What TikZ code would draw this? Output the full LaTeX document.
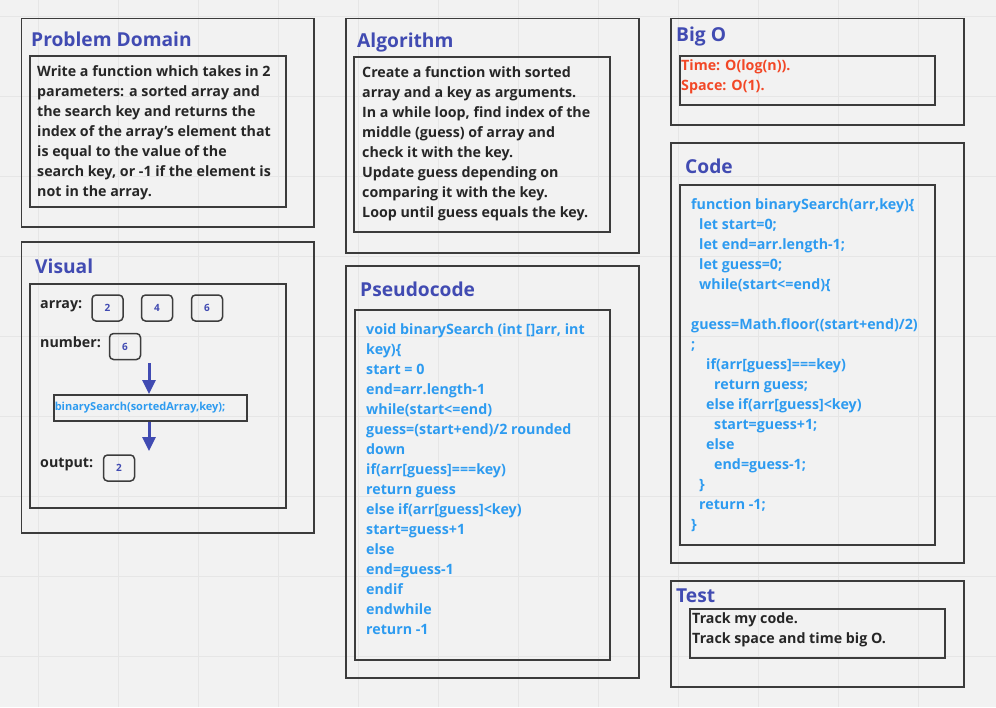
\documentclass[tikz,border=0pt]{standalone}
\usepackage{fontspec}
\setmainfont{Open Sans}
\usetikzlibrary{arrows.meta}
\definecolor{bg}{HTML}{F2F2F2}
\definecolor{gridc}{HTML}{E6E6E6}
\definecolor{framec}{HTML}{3C3C3C}
\definecolor{ttl}{HTML}{414BB2}
\definecolor{codeblue}{HTML}{2D9BF0}
\definecolor{redo}{HTML}{F24726}
\definecolor{txt}{HTML}{262626}
\begin{document}
\begin{tikzpicture}[x=1pt,y=-1pt,
  frm/.style={draw=framec, line width=1.5pt, rectangle, inner sep=0pt, anchor=north west},
  ttlstyle/.style={anchor=base west, inner sep=0pt, text=ttl, font=\fontsize{19.2}{23}\selectfont\bfseries},
  bodytxt/.style={anchor=base west, inner sep=0pt, align=left, text=txt, font=\fontsize{14.25}{20}\selectfont\bfseries},
  codetxt/.style={bodytxt, text=codeblue},
  redtxt/.style={bodytxt, text=redo},
  numbox/.style={draw=framec, line width=1.5pt, rounded corners=4pt, minimum width=31pt, minimum height=26pt, inner sep=0pt, text=ttl, font=\fontsize{10}{12}\selectfont\bfseries},
  flowarrow/.style={draw=ttl, line width=3pt, -{Triangle[width=13pt,length=14pt]}}
]
\fill[bg] (0,0) rectangle (996,707);
\useasboundingbox (0,0) rectangle (996,707);
\foreach \gx in {38,118,...,998} \draw[gridc, line width=1pt] (\gx,0) -- (\gx,707);
\foreach \gy in {16,96,...,656} \draw[gridc, line width=1pt] (0,\gy) -- (996,\gy);

% Problem Domain (multi-line texts are placed by the baseline of their last line)
\node[frm, minimum width=292.5pt, minimum height=208.5pt] (pd) at (20.5,17.5) {};
\node[frm, minimum width=256pt, minimum height=151pt] (pdi) at (29,55) {};
\node[ttlstyle] (pdt) at (31,46) {Problem Domain};
\node[bodytxt] (pdx) at (37,196) {Write a function which takes in 2\\parameters: a sorted array and\\the search key and returns the\\index of the array’s element that\\is equal to the value of the\\search key, or -1 if the element is\\not in the array.};

% Visual
\node[frm, minimum width=292.5pt, minimum height=291pt] (vis) at (20.5,241) {};
\node[frm, minimum width=256pt, minimum height=224pt] (visi) at (29,283) {};
\node[ttlstyle] (vist) at (35,273) {Visual};
\node[bodytxt] (arrl) at (40,308) {array:};
\node[bodytxt] (numl) at (40,347) {number:};
\node[bodytxt] (outl) at (40,467) {output:};
\node[numbox] (a1) at (107.5,308) {2};
\node[numbox] (a2) at (157,308) {4};
\node[numbox] (a3) at (207,308) {6};
\node[numbox] (nb) at (125,346.5) {6};
\node[numbox] (ob) at (119,468) {2};
\node[draw=framec, line width=1.5pt, anchor=north west, text width=191pt, inner xsep=1pt, inner ysep=0pt, minimum height=26pt, align=left, text=codeblue, font=\fontsize{11}{13}\selectfont\bfseries] (bs) at (53,394) {binarySearch(sortedArray,key);};
\coordinate (ar1s) at (149,363);
\coordinate (ar2e) at (149,451);
\draw[flowarrow] (ar1s) -- (ar1s |- bs.north);
\draw[flowarrow] (ar2e |- bs.south) -- (ar2e);

% Algorithm
\node[frm, minimum width=293pt, minimum height=234.5pt] (alg) at (345,17.5) {};
\node[frm, minimum width=256pt, minimum height=175pt] (algi) at (353,56) {};
\node[ttlstyle] (algt) at (357,47) {Algorithm};
\node[bodytxt] (algx) at (362,217) {Create a function with sorted\\array and a key as arguments.\\In a while loop, find index of the\\middle (guess) of array and\\check it with the key.\\Update guess depending on\\comparing it with the key.\\Loop until guess equals the key.};

% Pseudocode
\node[frm, minimum width=293pt, minimum height=412pt] (ps) at (345,265) {};
\node[frm, minimum width=255pt, minimum height=350pt] (psi) at (354,309) {};
\node[ttlstyle] (pst) at (360,296) {Pseudocode};
\node[codetxt] (psx) at (366,634) {void binarySearch (int []arr, int\\key)\{\\start = 0\\end=arr.length-1\\while(start<=end)\\guess=(start+end)/2 rounded\\down\\if(arr[guess]===key)\\return guess\\else if(arr[guess]<key)\\start=guess+1\\else\\end=guess-1\\endif\\endwhile\\return -1};

% Big O
\node[frm, minimum width=293pt, minimum height=106.5pt] (bo) at (670,17.5) {};
\node[frm, minimum width=255pt, minimum height=49pt] (boi) at (679,55) {};
\node[ttlstyle] (bot) at (676,41) {Big O};
\node[redtxt] (box) at (681,90) {Time: O(log(n)).\\Space: O(1).};

% Code
\node[frm, minimum width=293pt, minimum height=420pt] (code) at (670,142) {};
\node[frm, minimum width=255pt, minimum height=360pt] (codei) at (679,184) {};
\node[ttlstyle] (codet) at (685,173) {Code};
\node[codetxt] (codex) at (691,529) {function binarySearch(arr,key)\{\\
\hspace*{8pt}let start=0;\\
\hspace*{8pt}let end=arr.length-1;\\
\hspace*{8pt}let guess=0;\\
\hspace*{8pt}while(start<=end)\{\\
\mbox{}\\
guess=Math.floor((start+end)/2)\\
;\\
\hspace*{15pt}if(arr[guess]===key)\\
\hspace*{23pt}return guess;\\
\hspace*{15pt}else if(arr[guess]<key)\\
\hspace*{23pt}start=guess+1;\\
\hspace*{15pt}else\\
\hspace*{23pt}end=guess-1;\\
\hspace*{8pt}\}\\
\hspace*{8pt}return -1;\\
\}};

% Test
\node[frm, minimum width=293pt, minimum height=106pt] (test) at (670,580) {};
\node[frm, minimum width=255pt, minimum height=49pt] (testi) at (689,608) {};
\node[ttlstyle] (testt) at (676,602) {Test};
\node[bodytxt] (testx) at (692,643) {Track my code.\\Track space and time big O.};
\end{tikzpicture}
\end{document}
